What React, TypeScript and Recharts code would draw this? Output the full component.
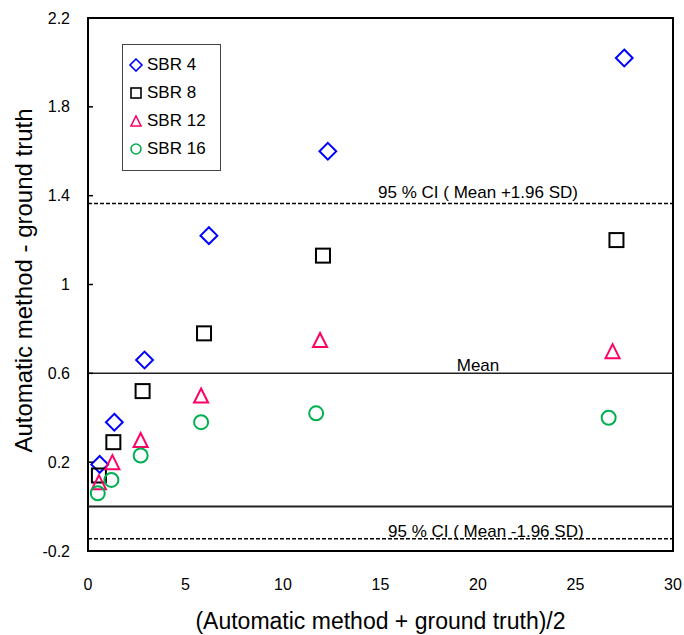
import {
  ScatterChart,
  Scatter,
  XAxis,
  YAxis,
  ReferenceLine,
  ReferenceArea,
  ReferenceDot,
} from 'recharts';

// valores
const sbr4X = [0.6, 1.35, 2.9, 6.2, 12.3, 27.5];
const sbr4Y = [0.19, 0.38, 0.66, 1.22, 1.6, 2.02];
const sbr8X = [0.56, 1.3, 2.8, 5.95, 12.05, 27.1];
const sbr8Y = [0.14, 0.29, 0.52, 0.78, 1.13, 1.2];
const sbr12X = [0.56, 1.25, 2.7, 5.8, 11.9, 26.9];
const sbr12Y = [0.11, 0.2, 0.3, 0.5, 0.75, 0.7];
const sbr16X = [0.5, 1.2, 2.7, 5.8, 11.7, 26.7];
const sbr16Y = [0.06, 0.12, 0.23, 0.38, 0.42, 0.4];

const meanValue = 0.6;
const upperCI = 1.365;
const lowerCI = -0.145;

const xTicks = [0, 5, 10, 15, 20, 25, 30];
const yTicks = [-0.2, 0.2, 0.6, 1, 1.4, 1.8, 2.2];

const seriesNames = ['SBR 4', 'SBR 8', 'SBR 12', 'SBR 16'];
const xTitle = '(Automatic method + ground truth)/2';
const yTitle = 'Automatic method - ground truth';
const upperLabel = '95 % CI ( Mean +1.96 SD)';
const lowerLabel = '95 % CI ( Mean -1.96 SD)';
const meanLabel = 'Mean';

const FONT = '"Liberation Sans", Arial, sans-serif';

const colors = {
  sbr4: '#0000FF',
  sbr8: '#000000',
  sbr12: '#FF0066',
  sbr16: '#00B050',
};

const toPoints = (xs: number[], ys: number[]) => xs.map((x, i) => ({ x, y: ys[i] }));

const sbr4 = toPoints(sbr4X, sbr4Y);
const sbr8 = toPoints(sbr8X, sbr8Y);
const sbr12 = toPoints(sbr12X, sbr12Y);
const sbr16 = toPoints(sbr16X, sbr16Y);

// marcadores huecos como en Excel
const Marker = ({ kind, cx, cy, size, color, sw }: any) => {
  const h = size / 2;
  if (kind === 'diamond') {
    const d = h * 1.2;
    return (
      <path
        d={`M${cx},${cy - d}L${cx + d},${cy}L${cx},${cy + d}L${cx - d},${cy}Z`}
        fill="none"
        stroke={color}
        strokeWidth={sw}
      />
    );
  }
  if (kind === 'square') {
    return <rect x={cx - h} y={cy - h} width={size} height={size} fill="none" stroke={color} strokeWidth={sw} />;
  }
  if (kind === 'triangle') {
    return (
      <path
        d={`M${cx},${cy - h}L${cx + h},${cy + h}L${cx - h},${cy + h}Z`}
        fill="none"
        stroke={color}
        strokeWidth={sw}
      />
    );
  }
  return <circle cx={cx} cy={cy} r={h} fill="none" stroke={color} strokeWidth={sw} />;
};

const makeShape = (kind: string, color: string) => (props: any) =>
  <Marker kind={kind} cx={props.cx} cy={props.cy} size={14} color={color} sw={2} />;

const legendItems = [
  { name: seriesNames[0], kind: 'diamond', color: colors.sbr4 },
  { name: seriesNames[1], kind: 'square', color: colors.sbr8 },
  { name: seriesNames[2], kind: 'triangle', color: colors.sbr12 },
  { name: seriesNames[3], kind: 'circle', color: colors.sbr16 },
];

// la leyenda va encima del gráfico para no quitarle alto al área de trazado
const LegendBox = () => (
  <div
    style={{
      position: 'absolute',
      left: 122,
      top: 44,
      border: '1px solid #444',
      background: '#fff',
      width: 99,
      height: 127,
      boxSizing: 'border-box',
      paddingTop: 6,
      fontFamily: FONT,
      fontSize: 17,
      color: '#000',
    }}
  >
    {legendItems.map((it) => (
      <div key={it.name} style={{ display: 'flex', alignItems: 'center', height: 28 }}>
        <svg width={21} height={14} style={{ marginLeft: 3 }}>
          <Marker kind={it.kind} cx={10} cy={7} size={10} color={it.color} sw={1.6} />
        </svg>
        <span>{it.name}</span>
      </div>
    ))}
  </div>
);

const YTick = (props: any) => {
  const { x, y, payload } = props;
  return (
    <g>
      <line x1={x} x2={x + 5} y1={y} y2={y} stroke="#000" strokeWidth={1.5} />
      <text x={x - 18} y={y} dy="0.35em" textAnchor="end" fontSize={16} fill="#000" fontFamily={FONT}>
        {payload.value}
      </text>
    </g>
  );
};

const XTitle = (props: any) => {
  const vb = props.viewBox;
  return (
    <text x={vb.x + vb.width / 2} y={vb.y + 78} textAnchor="middle" fontSize={23} fill="#000" fontFamily={FONT}>
      {xTitle}
    </text>
  );
};

const YTitle = (props: any) => {
  const vb = props.viewBox;
  const x = vb.x + 32;
  const y = vb.y + vb.height / 2 - 4;
  return (
    <text x={x} y={y} transform={`rotate(-90 ${x} ${y})`} textAnchor="middle" fontSize={24} fill="#000" fontFamily={FONT}>
      {yTitle}
    </text>
  );
};

const refLabel = (value: string, offset: number) => ({
  value,
  position: 'top' as const,
  offset,
  fill: '#000',
  fontSize: 17,
  fontFamily: FONT,
});

export default function App() {
  return (
    <div style={{ position: 'absolute', left: 0, top: 0, width: 684, height: 635, background: '#fff', fontFamily: FONT }}>
      <ScatterChart width={684} height={635} margin={{ top: 18, right: 11, bottom: 0, left: 0 }}>
        <XAxis
          type="number"
          dataKey="x"
          domain={[0, 30]}
          ticks={xTicks}
          height={84}
          axisLine={false}
          tickLine={false}
          tickSize={0}
          tickMargin={28}
          tick={{ fontSize: 16, fill: '#000', fontFamily: FONT }}
          label={XTitle}
        />
        <YAxis
          type="number"
          dataKey="y"
          domain={[-0.2, 2.2]}
          ticks={yTicks}
          width={88}
          axisLine={false}
          tickLine={false}
          tickSize={0}
          tickMargin={0}
          tick={YTick}
          label={YTitle}
        />
        <ReferenceLine y={upperCI} stroke="#000" strokeWidth={1.5} strokeDasharray="4 2" />
        <ReferenceLine y={meanValue} stroke="#222" strokeWidth={1.5} />
        <ReferenceLine y={0} stroke="#222" strokeWidth={2} />
        <ReferenceLine y={lowerCI} stroke="#000" strokeWidth={1.5} strokeDasharray="4 2" />
        <ReferenceDot x={20} y={upperCI} r={0} fill="none" stroke="none" label={refLabel(upperLabel, 5)} />
        <ReferenceDot x={20} y={meanValue} r={0} fill="none" stroke="none" label={refLabel(meanLabel, 2)} />
        <ReferenceDot x={20.4} y={lowerCI} r={0} fill="none" stroke="none" label={refLabel(lowerLabel, 2)} />
        <Scatter name={seriesNames[0]} data={sbr4} shape={makeShape('diamond', colors.sbr4)} isAnimationActive={false} />
        <Scatter name={seriesNames[1]} data={sbr8} shape={makeShape('square', colors.sbr8)} isAnimationActive={false} />
        <Scatter name={seriesNames[2]} data={sbr12} shape={makeShape('triangle', colors.sbr12)} isAnimationActive={false} />
        <Scatter name={seriesNames[3]} data={sbr16} shape={makeShape('circle', colors.sbr16)} isAnimationActive={false} />
        <ReferenceArea x1={0} x2={30} y1={-0.2} y2={2.2} fill="none" stroke="#000" strokeWidth={2} />
      </ScatterChart>
      <LegendBox />
    </div>
  );
}
